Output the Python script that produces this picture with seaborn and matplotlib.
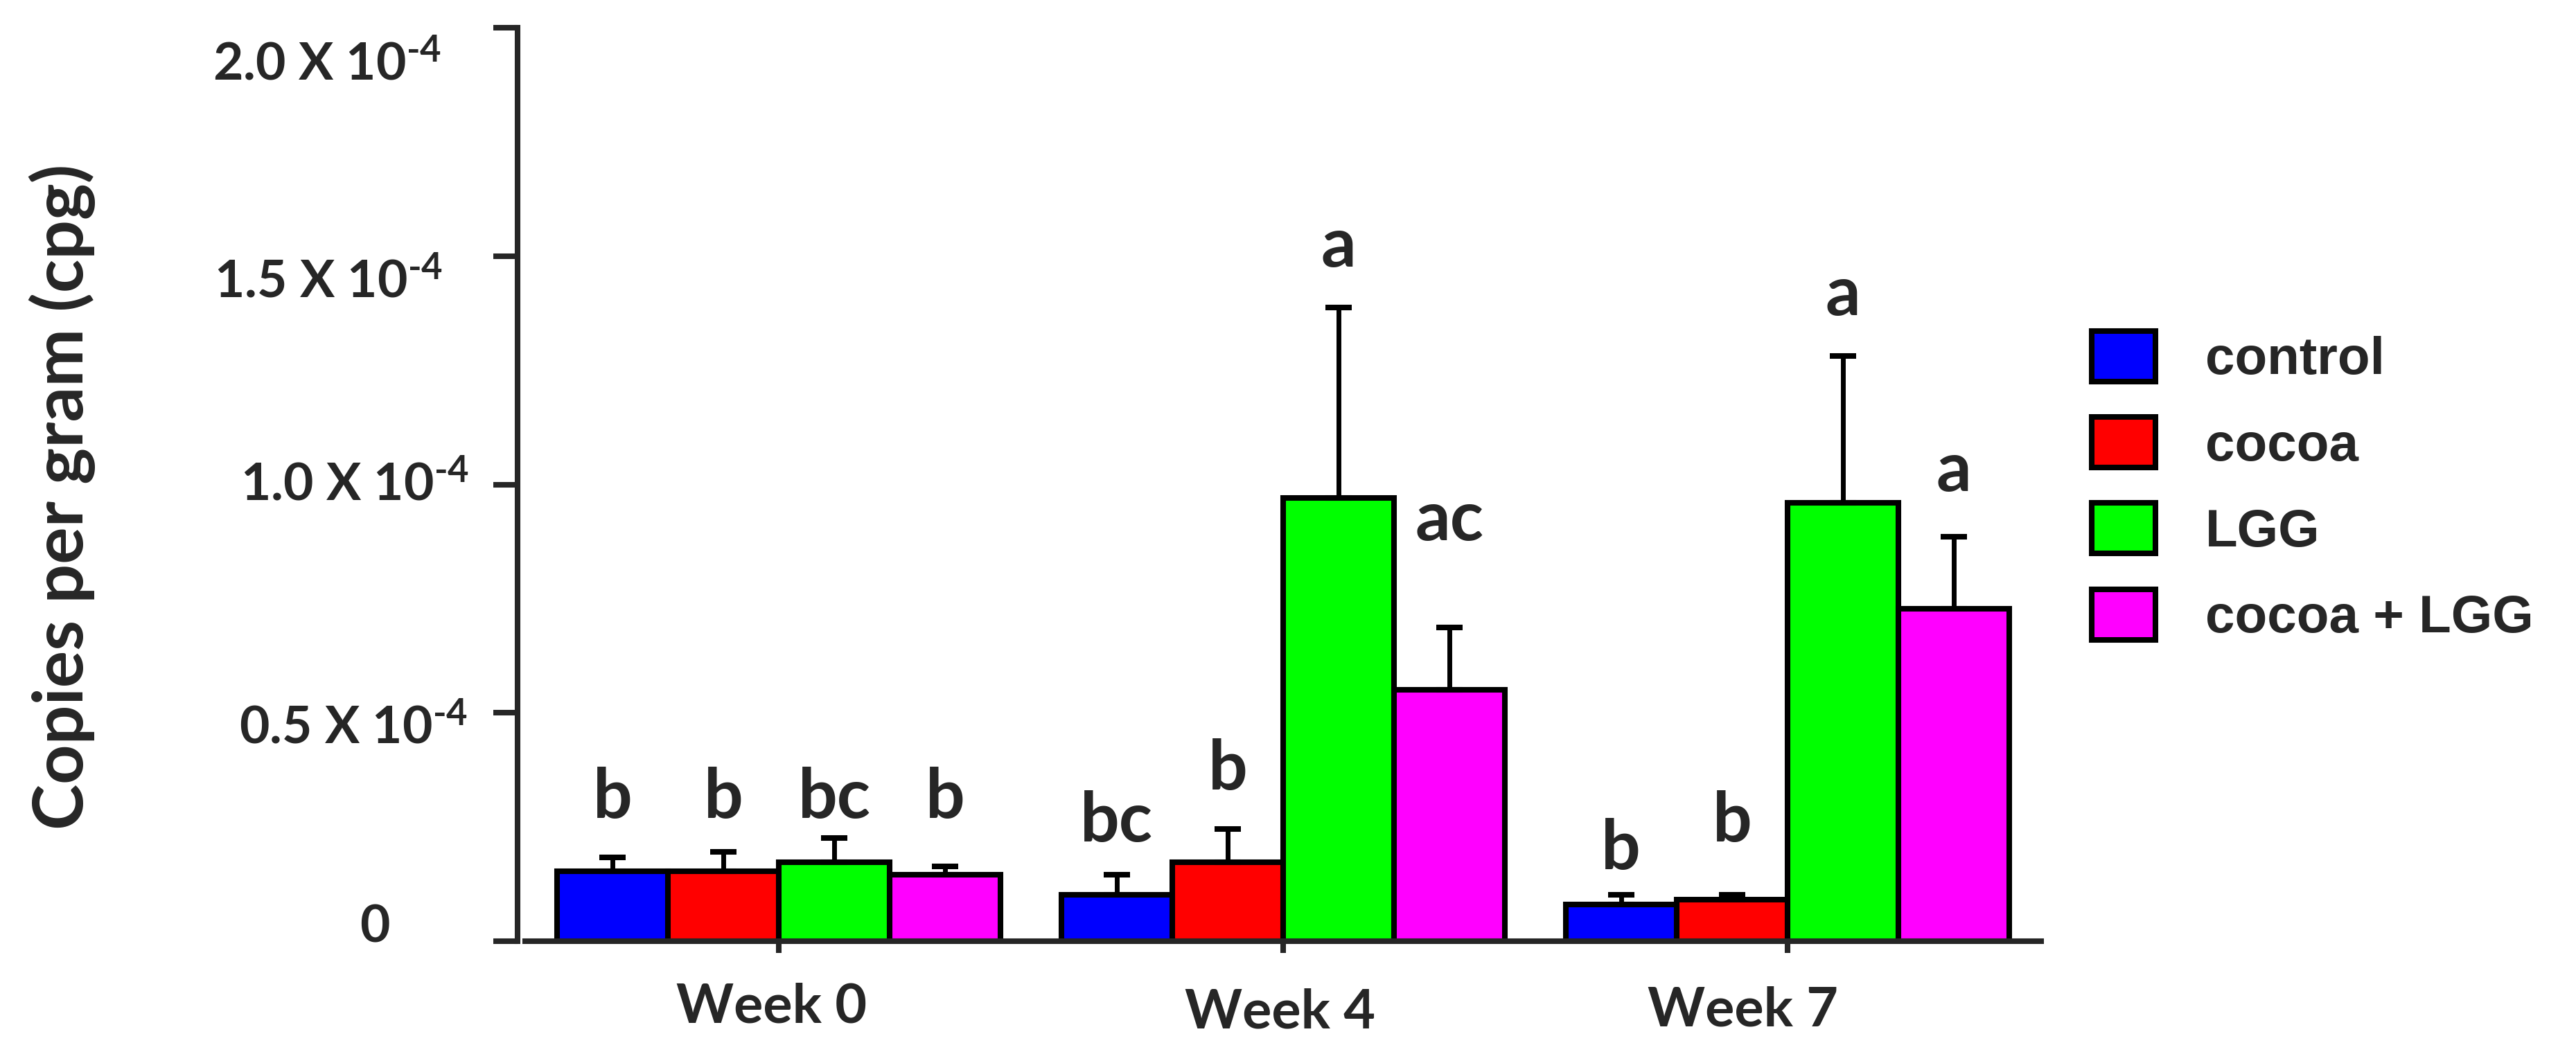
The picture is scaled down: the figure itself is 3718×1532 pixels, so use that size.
import numpy as np
import pandas as pd
import matplotlib
matplotlib.use("Agg")
import matplotlib.pyplot as plt
import matplotlib.patches as mpatches
from matplotlib.transforms import ScaledTranslation
import seaborn as sns

# values in units of 1e-4 copies per gram
weeks = ["Week 0", "Week 4", "Week 7"]
groups = ["control", "cocoa", "LGG", "cocoa + LGG"]
colors = ["#0000FF", "#FF0000", "#00FF00", "#FF00FF"]

control_mean = [0.153, 0.102, 0.080]
control_sem = [0.031, 0.043, 0.021]
cocoa_mean = [0.153, 0.173, 0.091]
cocoa_sem = [0.042, 0.073, 0.011]
lgg_mean = [0.173, 0.971, 0.960]
lgg_sem = [0.053, 0.416, 0.322]
cocoa_lgg_mean = [0.145, 0.551, 0.728]
cocoa_lgg_sem = [0.019, 0.136, 0.157]

# significance letters and the height of their baseline
control_letters = ["b", "bc", "b"]
cocoa_letters = ["b", "b", "b"]
lgg_letters = ["bc", "a", "a"]
cocoa_lgg_letters = ["b", "ac", "a"]
control_letter_y = [0.27, 0.219, 0.158]
cocoa_letter_y = [0.27, 0.332, 0.219]
lgg_letter_y = [0.27, 1.477, 1.370]
cocoa_lgg_letter_y = [0.27, 0.878, 0.985]

yticks = [0, 0.5, 1.0, 1.5, 2.0]
ytick_labels = ["0", "0.5 X 10$^{\u2010 4}$", "1.0 X 10$^{\u2010 4}$",
                "1.5 X 10$^{\u2010 4}$", "2.0 X 10$^{\u2010 4}$"]

# the original's tick labels sit a little off their ticks (pixels)
ytick_dx = [29, -2, 0, -38, -40]
ytick_dy = [-27, 15, -6, 31, 46]
xtick_dx = [-10, -4, -64]
xtick_dy = [0, 8, 5]

means = [control_mean, cocoa_mean, lgg_mean, cocoa_lgg_mean]
sems = [control_sem, cocoa_sem, lgg_sem, cocoa_lgg_sem]
letters = [control_letters, cocoa_letters, lgg_letters, cocoa_lgg_letters]
letter_y = [control_letter_y, cocoa_letter_y, lgg_letter_y, cocoa_lgg_letter_y]

df = pd.DataFrame({
    "week": weeks * len(groups),
    "group": np.repeat(groups, len(weeks)),
    "value": np.concatenate(means),
})

sns.set_style("ticks")
plt.rcParams["font.family"] = ["Lato", "DejaVu Sans"]
plt.rcParams["font.weight"] = "bold"
plt.rcParams["mathtext.fontset"] = "custom"
plt.rcParams["mathtext.rm"] = "Lato:bold"
plt.rcParams["mathtext.bf"] = "Lato:bold"
plt.rcParams["mathtext.it"] = "Lato:bold"
plt.rcParams["mathtext.default"] = "rm"

LW = 5.8  # ~8 px at dpi 100

fig = plt.figure(figsize=(37.18, 15.32), dpi=100)
ax = fig.add_axes([0.2009, 0.1129, 0.7924 - 0.2009, 0.9739 - 0.1129])

sns.barplot(data=df, x="week", y="value", hue="group", hue_order=groups,
            order=weeks, palette=colors, width=0.88, errorbar=None,
            edgecolor="black", linewidth=LW, saturation=1, legend=False, ax=ax)

# upper error bars and letters, placed on the bars seaborn drew
bar_containers = list(ax.containers)
for gi, cont in enumerate(bar_containers):
    for wi, bar in enumerate(cont.patches):
        xc = bar.get_x() + bar.get_width() / 2
        h = bar.get_height()
        ax.errorbar(xc, h, yerr=[[0], [sems[gi][wi]]], fmt="none",
                    ecolor="black", elinewidth=5.0, capsize=14,
                    capthick=LW, zorder=3)
        ax.text(xc, letter_y[gi][wi], letters[gi][wi], ha="center",
                va="baseline", fontsize=72, fontweight="bold",
                family=["Lato", "DejaVu Sans"])

ax.set_xlim(-0.518, 2.503)
ax.set_ylim(0, 2.0)
ax.set_yticks(yticks)
ax.set_yticklabels(ytick_labels)
ax.set_xlabel("")
ax.set_ylabel("")

sns.despine(ax=ax)
ax.spines["left"].set_linewidth(LW)
ax.spines["bottom"].set_linewidth(LW)
ax.spines["left"].set_bounds(0, 2.0)
ax.spines["bottom"].set_bounds(-0.503, 2.503)

ax.tick_params(axis="y", direction="out", length=25, width=LW, pad=144,
               labelsize=54)
ax.tick_params(axis="x", direction="out", length=12, width=LW, pad=31,
               labelsize=57)

for tick, dx, dy in zip(ax.yaxis.get_major_ticks(), ytick_dx, ytick_dy):
    lab = tick.label1
    lab.set_fontweight("bold")
    lab.set_horizontalalignment("center")
    lab.set_transform(lab.get_transform() + ScaledTranslation(
        dx / 100, -dy / 100, fig.dpi_scale_trans))
for tick, dx, dy in zip(ax.xaxis.get_major_ticks(), xtick_dx, xtick_dy):
    lab = tick.label1
    lab.set_fontweight("bold")
    lab.set_transform(lab.get_transform() + ScaledTranslation(
        dx / 100, -dy / 100, fig.dpi_scale_trans))

fig.text(90 / 3718, 1 - 717 / 1532, "Copies per gram (cpg)", rotation=90,
         ha="center", va="center", fontsize=72, fontweight="bold")

handles = [mpatches.Patch(facecolor=c, edgecolor="black", linewidth=LW,
                          label=g) for c, g in zip(colors, groups)]
fig.legend(handles=handles, loc="upper left",
           bbox_to_anchor=(3019 / 3718, 1 - 478 / 1532), frameon=False,
           prop={"family": "Liberation Sans", "weight": "bold", "size": 55},
           handlelength=1.2, handleheight=1.09, handletextpad=0.95,
           labelspacing=0.6, borderpad=0, borderaxespad=0)

fig.savefig("out.png", dpi=100)
